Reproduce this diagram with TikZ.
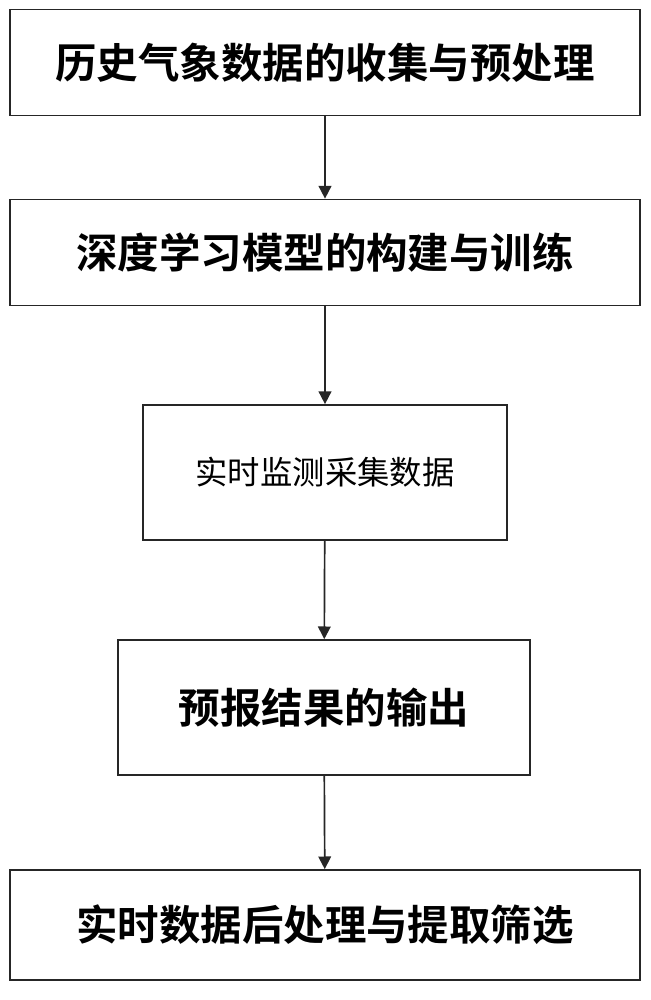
\documentclass[tikz,border=0pt]{standalone}
\usepackage{fontspec}
\setmainfont{Noto Sans CJK SC}[BoldFont={Noto Sans CJK SC Bold}]
\usetikzlibrary{arrows.meta}
\tikzset{
  stepbox/.style={draw=black!85,line width=1.2pt,minimum height=2.65cm,inner sep=0pt,font=\bfseries},
  flow/.style={draw=black!85,line width=1.2pt,-{Triangle[length=9pt,width=9pt]}}
}
\begin{document}
\begin{tikzpicture}[x=0.025cm,y=-0.025cm]
    \useasboundingbox (0,0) rectangle (651,1000);

    \node[stepbox,minimum width=15.75cm] (collect) at (325,62.5) {\fontsize{29.5}{32}\selectfont 历史气象数据的收集与预处理};
    \node[stepbox,minimum width=15.75cm] (train) at (325,252.5) {\fontsize{29.5}{32}\selectfont 深度学习模型的构建与训练};
    \node[stepbox,minimum width=9.1cm,minimum height=3.375cm,font=\mdseries] (monitor) at (325,472.5) {\fontsize{23}{26}\selectfont 实时监测采集数据};
    \node[stepbox,minimum width=10.3cm,minimum height=3.375cm] (output) at (324,707.5) {\fontsize{29.5}{32}\selectfont 预报结果的输出};
    \node[stepbox,minimum width=15.75cm,minimum height=2.75cm] (filter) at (325,925) {\fontsize{29.5}{32}\selectfont 实时数据后处理与提取筛选};

    \draw[flow] (collect) -- (train);
    \draw[flow] (train) -- (monitor);
    \draw[flow] (monitor) -- (output);
    \draw[flow] (output) -- (filter);
\end{tikzpicture}
\end{document}
